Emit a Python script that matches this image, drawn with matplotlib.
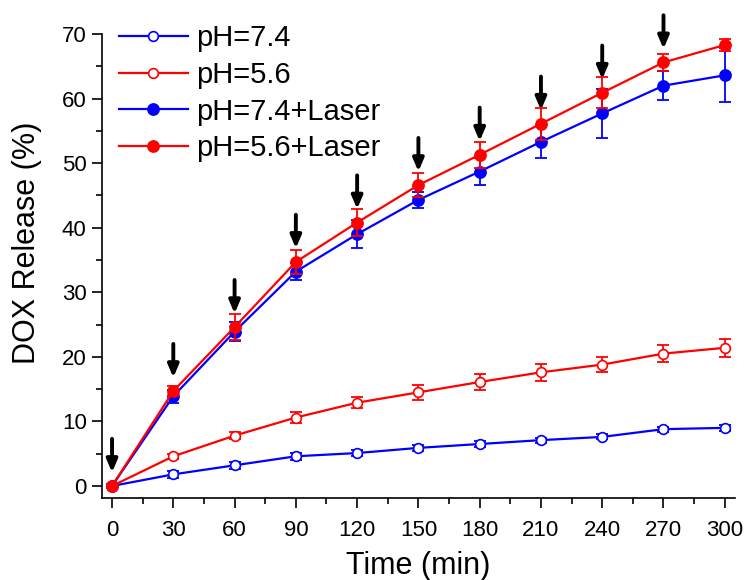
import numpy as np
import matplotlib
matplotlib.use("Agg")
import matplotlib.pyplot as plt
from matplotlib.ticker import MultipleLocator

plt.rcParams['font.family'] = ['Liberation Sans', 'DejaVu Sans']

time = [0, 30, 60, 90, 120, 150, 180, 210, 240, 270, 300]

ph74 = [0, 1.8, 3.2, 4.6, 5.1, 5.9, 6.5, 7.1, 7.6, 8.8, 9.0]
ph74_err = [0.3, 0.5, 0.5, 0.5, 0.4, 0.5, 0.5, 0.4, 0.4, 0.4, 0.5]
ph56 = [0, 4.6, 7.8, 10.6, 12.9, 14.5, 16.1, 17.6, 18.8, 20.5, 21.4]
ph56_err = [0.3, 0.4, 0.6, 0.8, 0.9, 1.2, 1.2, 1.3, 1.2, 1.3, 1.4]
ph74_laser = [0, 13.9, 23.9, 33.2, 39.0, 44.3, 48.7, 53.3, 57.7, 62.0, 63.6]
ph74_laser_err = [0.3, 1.0, 1.5, 1.3, 2.2, 1.3, 2.1, 2.5, 3.8, 2.3, 4.2]
ph56_laser = [0, 14.7, 24.6, 34.7, 40.8, 46.6, 51.3, 56.1, 60.9, 65.6, 68.3]
ph56_laser_err = [0.3, 0.8, 2.0, 1.8, 2.1, 1.8, 2.0, 2.5, 2.4, 1.3, 1.0]

# laser irradiation times (arrows)
laser_times = [0, 30, 60, 90, 120, 150, 180, 210, 240, 270]

fig = plt.figure(figsize=(7.48, 5.8), dpi=100)
ax = fig.add_axes([0.1364, 0.1414, 0.8462, 0.8000])

blue = "#0000ff"
red = "#ff0000"
ebar = dict(fmt="none", capsize=4, elinewidth=1.3, capthick=1.3)
line = dict(lw=1.6, marker="o")

series = [
    (ph74, ph74_err, blue, "white", 7, "pH=7.4"),
    (ph56, ph56_err, red, "white", 7, "pH=5.6"),
    (ph74_laser, ph74_laser_err, blue, blue, 8, "pH=7.4+Laser"),
    (ph56_laser, ph56_laser_err, red, red, 8, "pH=5.6+Laser"),
]
for vals, err, col, face, ms, lab in series:
    ax.errorbar(time, vals, yerr=err, ecolor=col, **ebar)
    ax.plot(time, vals, color=col, mfc=face, mec=col, ms=ms, mew=1.2,
            label=lab, **line)

for t in laser_times:
    i = time.index(t)
    top = max(ph56_laser[i], ph74_laser[i])
    ax.annotate("", xy=(t, top + 2.1), xytext=(t, top + 7.3),
                annotation_clip=False,
                arrowprops=dict(arrowstyle="-|>,head_length=0.75,head_width=0.32",
                                color="black", lw=2.8, shrinkA=0, shrinkB=0))

ax.set_xlim(-4.9, 305)
ax.set_ylim(-1.86, 70)
ax.set_xticks(time)
ax.xaxis.set_minor_locator(MultipleLocator(15))
ax.yaxis.set_major_locator(MultipleLocator(10))
ax.yaxis.set_minor_locator(MultipleLocator(5))
ax.tick_params(labelsize=16, width=1.2, length=7)
ax.tick_params(axis="x", pad=9)
ax.tick_params(axis="y", pad=4)
ax.tick_params(which="minor", width=1.2, length=4)
for s in ["top", "right"]:
    ax.spines[s].set_visible(False)
for s in ["left", "bottom"]:
    ax.spines[s].set_linewidth(1.2)

ax.set_xlabel("Time (min)", fontsize=22, labelpad=7)
ax.set_ylabel("DOX Release (%)", fontsize=22)
ax.yaxis.set_label_coords(-0.095, 0.55)

ax.legend(loc="upper left", bbox_to_anchor=(119 / 748, 1 - 24 / 580),
          bbox_transform=fig.transFigure, frameon=False, borderpad=0,
          borderaxespad=0, fontsize=21, handlelength=2.35,
          handletextpad=0.3, labelspacing=0.3)

plt.savefig("out.png", dpi=100)
plt.close()
